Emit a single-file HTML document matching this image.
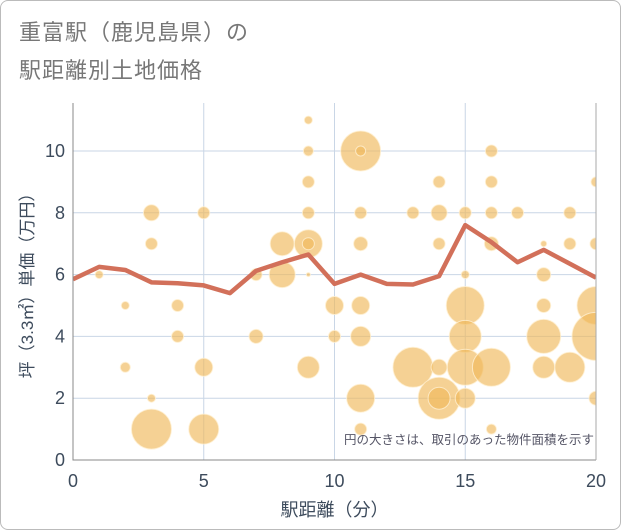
<!DOCTYPE html>
<html><head><meta charset="utf-8">
<style>
body{margin:0;background:#fff;font-family:"Liberation Sans","Noto Sans CJK JP",sans-serif;}
#wrap{position:relative;width:619px;height:528px;border:1px solid #bbb;border-radius:8px;overflow:hidden;background:#fff}
.title{position:absolute;left:18px;font-size:22px;color:#777;letter-spacing:1px}
</style></head><body>
<div id="wrap">
<div class="title" style="top:14px">重富駅（鹿児島県）の</div>
<div class="title" style="top:52px">駅距離別土地価格</div>
<svg id="chart" width="621" height="530" style="position:absolute;left:-1px;top:-1px"></svg>
</div>
<script>
const xTicks=[0,5,10,15,20];
const yTicks=[0,2,4,6,8,10];
const bx=[1,2,2,3,3,3,3,4,4,5,5,5,7,7,8,8,9,9,9,9,9,9,9,9,10,10,11,11,11,11,11,11,11,11,13,13,14,14,14,14,14,14,15,15,15,15,15,15,16,16,16,16,16,16,17,18,18,18,18,18,19,19,19,20,20,20,20,20];
const by=[6,5,3,8,7,2,1,5,4,8,3,1,6,4,7,6,11,10,9,8,7,7,6,3,5,4,10,10,8,7,5,4,2,1,8,3,9,8,7,3,2,2,8,6,5,4,3,2,10,9,8,7,3,1,8,7,6,5,4,3,8,7,3,9,7,5,4,2];
const br=[4,4,5,8,6,4,20,6,6,6,9,15,6,7,12,13,4,5,6,6,14,6,2,11,9,6,20,5,6,7,9,10,14,6,6,20,6,8,6,8,21,11,6,4,19,16,18,10,6,6,6,7,19,5,6,3,7,7,17,11,6,6,15,5,6,19,24,7];
const lineX=[0,1,2,3,4,5,6,7,8,9,10,11,12,13,14,15,16,17,18,19,20];
const lineY=[5.85,6.25,6.15,5.75,5.72,5.65,5.4,6.12,6.4,6.65,5.7,6.0,5.7,5.68,5.95,7.6,7.05,6.4,6.8,6.35,5.9];
const L=73,R=596,T=103,B=460;
const sx=v=>L+(R-L)*v/20, sy=v=>B-(B-151)*v/10;
const svg=document.getElementById('chart'),NS='http://www.w3.org/2000/svg';
function mk(t,a,p){const e=document.createElementNS(NS,t);for(const k in a)e.setAttribute(k,a[k]);(p||svg).appendChild(e);return e;}
const grid=mk('g',{});


xTicks.forEach(v=>{const l=mk('line',{x1:sx(v),x2:sx(v),y1:T,y2:B,stroke:'#c9d6e6','stroke-width':1},grid);


const t=mk('text',{x:sx(v),y:487,'text-anchor':'middle','font-size':18,fill:'#3d4b5c'});t.textContent=v;

});
yTicks.forEach(v=>{const l=mk('line',{x1:L,x2:R,y1:sy(v),y2:sy(v),stroke:'#c9d6e6','stroke-width':1},grid);


const t=mk('text',{x:L-8,y:sy(v)+6,'text-anchor':'end','font-size':18,fill:'#3d4b5c'});t.textContent=v;

});
const defs=mk('defs',{});mk('rect',{x:L,y:T,width:R-L,height:B-T},mk('clipPath',{id:'c'},defs));
const bg=mk('g',{'clip-path':'url(#c)'});


bx.forEach((x,i)=>{const c=mk('circle',{cx:sx(x),cy:sy(by[i]),r:br[i],fill:'rgba(240,185,90,0.65)',stroke:'rgba(255,240,210,0.8)','stroke-width':1},bg);

});
const ln=mk('polyline',{points:lineX.map((x,i)=>sx(x)+','+sy(lineY[i])).join(' '),fill:'none',stroke:'#d2705a','stroke-width':4.5,'stroke-linejoin':'round','clip-path':'url(#c)'});


const ax=mk('polyline',{points:`${L},${T} ${L},${B} ${R},${B}`,fill:'none',stroke:'#888','stroke-width':1});


const bd=mk('line',{x1:R,x2:R,y1:T,y2:B,stroke:'#aaa'});


const xt=mk('text',{x:(L+R)/2,y:516,'text-anchor':'middle','font-size':18,fill:'#3d4b5c'});xt.textContent='駅距離（分）';


const yt=mk('text',{x:0,y:0,'text-anchor':'middle','font-size':17,fill:'#3d4b5c',transform:`translate(33,${(T+B)/2}) rotate(-90)`});yt.textContent='坪（3.3㎡）単価（万円）';


const nt=mk('text',{x:594,y:444,'text-anchor':'end','font-size':12.5,fill:'#556'});nt.textContent='円の大きさは、取引のあった物件面積を示す';


</script>
</body></html>
